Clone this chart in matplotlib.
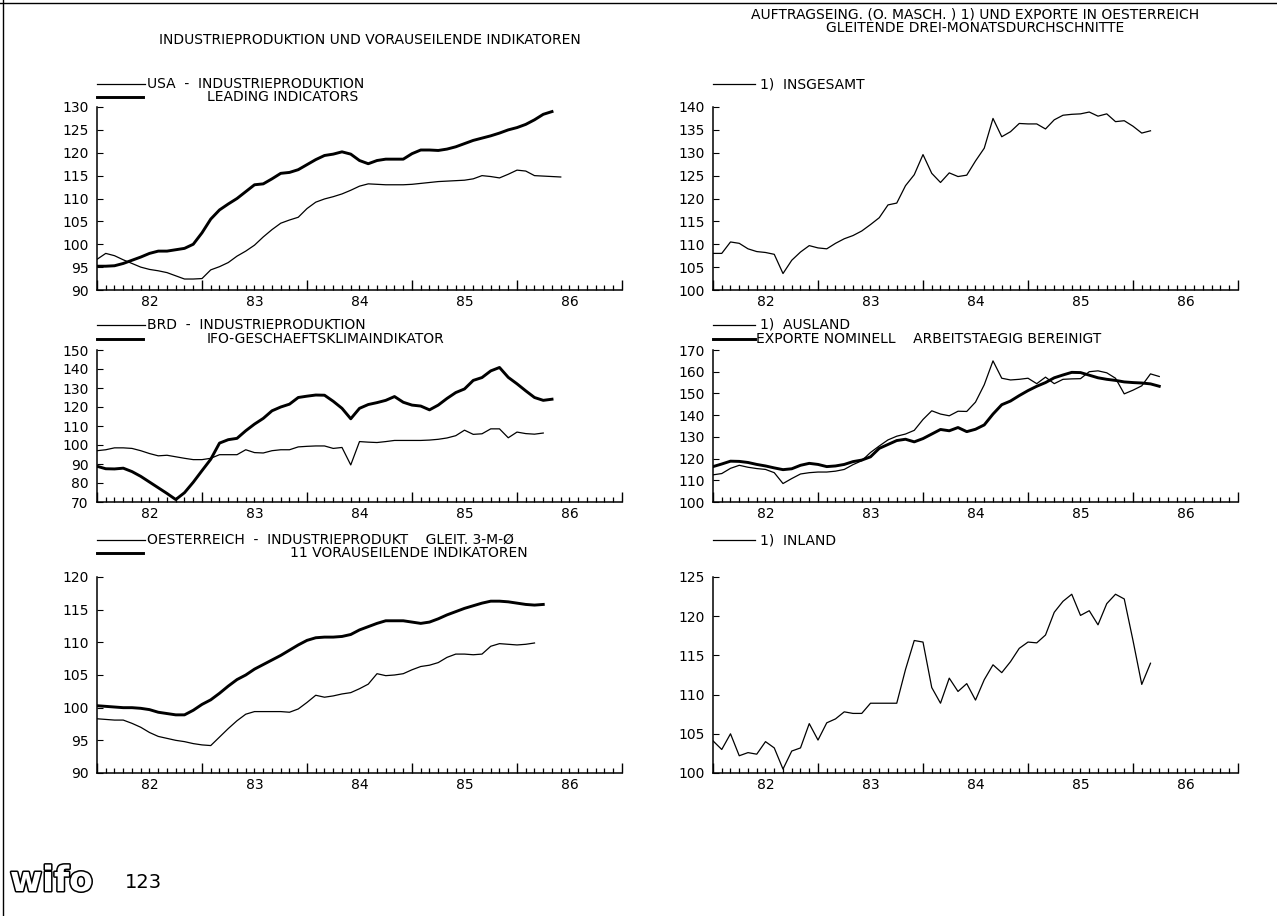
import numpy as np
import matplotlib.pyplot as plt
import matplotlib.patheffects as pe
from matplotlib.lines import Line2D

plt.rcParams['font.family'] = ['DejaVu Sans']

# monthly values from Jan 1982
usa_ip = [96.7, 98.0, 97.5, 96.6, 95.8, 95.0, 94.5, 94.2, 93.8, 93.1, 92.4, 92.4, 92.5,
          94.4, 95.1, 96.0, 97.4, 98.5, 99.8, 101.6, 103.2, 104.6, 105.3, 105.9, 107.8,
          109.2, 109.9, 110.4, 111.0, 111.8, 112.7, 113.2, 113.1, 113.0, 113.0, 113.0,
          113.1, 113.3, 113.5, 113.7, 113.8, 113.9, 114.0, 114.3, 115.0, 114.8, 114.5,
          115.3, 116.2, 116.0, 115.0, 114.9, 114.8, 114.7]
usa_li = [95.2, 95.2, 95.3, 95.8, 96.5, 97.2, 98.0, 98.5, 98.5, 98.8, 99.1, 100.0, 102.5,
          105.5, 107.5, 108.8, 110.0, 111.5, 113.0, 113.2, 114.3, 115.5, 115.7, 116.3,
          117.4, 118.5, 119.4, 119.7, 120.2, 119.7, 118.3, 117.6, 118.3, 118.6, 118.6,
          118.6, 119.8, 120.6, 120.6, 120.5, 120.8, 121.3, 122.0, 122.7, 123.2, 123.7,
          124.3, 125.0, 125.5, 126.2, 127.2, 128.4, 129.0]

brd_ip = [97.0, 97.5, 98.5, 98.5, 98.2, 97.0, 95.5, 94.3, 94.6, 93.8, 93.0, 92.3, 92.3,
          93.0, 94.9, 94.9, 94.9, 97.5, 96.0, 95.8, 97.0, 97.5, 97.5, 99.0, 99.3, 99.5,
          99.5, 98.2, 98.7, 89.5, 101.8, 101.5, 101.3, 101.8, 102.4, 102.4, 102.4, 102.4,
          102.6, 103.0, 103.7, 104.9, 107.8, 105.6, 105.9, 108.5, 108.5, 103.8, 106.8,
          106.0, 105.7, 106.3]
brd_ifo = [88.8, 87.5, 87.4, 87.8, 86.0, 83.5, 80.5, 77.5, 74.5, 71.3, 74.9, 80.4, 86.5,
           92.5, 101.0, 102.8, 103.5, 107.5, 111.0, 114.0, 118.0, 120.0, 121.5, 125.0,
           125.7, 126.3, 126.2, 123.0, 119.3, 113.8, 119.3, 121.3, 122.3, 123.5, 125.5,
           122.5, 121.0, 120.5, 118.5, 121.0, 124.5, 127.6, 129.5, 134.0, 135.5, 139.0,
           140.8, 135.6, 132.2, 128.5, 125.0, 123.5, 124.1]

at_ip = [98.3, 98.2, 98.1, 98.1, 97.6, 97.0, 96.2, 95.6, 95.3, 95.0, 94.8, 94.5, 94.3,
         94.2, 95.5, 96.8, 98.0, 99.0, 99.4, 99.4, 99.4, 99.4, 99.3, 99.8, 100.8, 101.9,
         101.6, 101.8, 102.1, 102.3, 102.9, 103.6, 105.2, 104.9, 105.0, 105.2, 105.8,
         106.3, 106.5, 106.9, 107.7, 108.2, 108.2, 108.1, 108.2, 109.4, 109.8, 109.7,
         109.6, 109.7, 109.9]
at_li = [100.3, 100.2, 100.1, 100.0, 100.0, 99.9, 99.7, 99.3, 99.1, 98.9, 98.9, 99.6,
         100.5, 101.2, 102.2, 103.3, 104.3, 105.0, 105.9, 106.6, 107.3, 108.0, 108.8,
         109.6, 110.3, 110.7, 110.8, 110.8, 110.9, 111.2, 111.9, 112.4, 112.9, 113.3,
         113.3, 113.3, 113.1, 112.9, 113.1, 113.6, 114.2, 114.7, 115.2, 115.6, 116.0,
         116.3, 116.3, 116.2, 116.0, 115.8, 115.7, 115.8]

orders_total = [108.0, 108.0, 110.5, 110.2, 109.0, 108.4, 108.2, 107.8, 103.6, 106.5,
                108.3, 109.7, 109.2, 109.0, 110.2, 111.2, 111.9, 112.9, 114.3, 115.8,
                118.6, 119.0, 122.8, 125.2, 129.6, 125.5, 123.5, 125.6, 124.8, 125.1,
                128.2, 131.0, 137.5, 133.5, 134.6, 136.4, 136.3, 136.3, 135.2, 137.2,
                138.2, 138.4, 138.5, 138.9, 138.0, 138.5, 136.8, 137.0, 135.8, 134.3, 134.8]
orders_foreign = [112.5, 113.1, 115.5, 116.9, 116.0, 115.4, 115.0, 113.5, 108.5, 110.8,
                  112.9, 113.5, 113.8, 113.8, 114.2, 115.0, 117.2, 119.0, 122.8, 125.8,
                  128.6, 130.3, 131.3, 133.0, 138.0, 142.0, 140.5, 139.7, 141.8, 141.7,
                  146.0, 154.0, 165.0, 157.0, 156.2, 156.5, 157.0, 154.5, 157.5, 154.5,
                  156.5, 156.7, 156.8, 160.0, 160.4, 159.5, 157.0, 149.8, 151.5, 153.5,
                  159.0, 157.8]
exports = [116.3, 117.5, 118.8, 118.7, 118.2, 117.3, 116.6, 115.7, 114.9, 115.3, 116.9,
           117.8, 117.3, 116.3, 116.6, 117.3, 118.6, 119.3, 120.8, 124.7, 126.5, 128.3,
           128.9, 127.7, 129.2, 131.3, 133.4, 132.8, 134.3, 132.4, 133.5, 135.5, 140.5,
           144.8, 146.5, 149.0, 151.3, 153.3, 155.0, 157.2, 158.5, 159.7, 159.6, 158.4,
           157.2, 156.5, 156.0, 155.3, 155.0, 154.8, 154.4, 153.3]
orders_domestic = [104.1, 103.0, 105.0, 102.2, 102.6, 102.4, 104.0, 103.2, 100.5, 102.8,
                   103.2, 106.3, 104.2, 106.4, 106.9, 107.8, 107.6, 107.6, 108.9, 108.9,
                   108.9, 108.9, 113.2, 116.9, 116.7, 110.9, 108.9, 112.1, 110.4, 111.4,
                   109.3, 111.9, 113.8, 112.8, 114.2, 115.9, 116.7, 116.6, 117.6, 120.5,
                   121.9, 122.8, 120.1, 120.7, 118.9, 121.6, 122.8, 122.2, 116.9, 111.3, 114.0]

year_labels = ['82', '83', '84', '85', '86']

W, H = 1277, 916
THIN, THICK = 0.9, 2.1
FS = 10

fig = plt.figure(figsize=(W / 100, H / 100), dpi=100)


def fy(y):
    return 1 - y / H


def panel(left, top, right, bottom, ylo, yhi, ystep, thin, thick=None):
    ax = fig.add_axes([left / W, fy(bottom), (right - left) / W, (bottom - top) / H])
    for vals, lw in ((thin, THIN), (thick, THICK)):
        if vals is None:
            continue
        x = 1982 + np.arange(len(vals)) / 12
        ax.plot(x, vals, color='black', lw=lw, solid_joinstyle='round')
    ax.set_xlim(1982, 1987)
    ax.set_ylim(ylo, yhi)
    for s in ('top', 'right'):
        ax.spines[s].set_visible(False)
    for s in ('left', 'bottom'):
        ax.spines[s].set_linewidth(1.1)
    ax.set_xticks(np.arange(1982, 1988), [])
    ax.set_xticks(1982 + np.arange(61) / 12, minor=True)
    ax.tick_params(axis='x', which='major', direction='in', length=7, width=1.0)
    ax.tick_params(axis='x', which='minor', direction='in', length=3.5, width=0.9)
    ax.set_yticks(np.arange(ylo, yhi + 1, ystep))
    ax.tick_params(axis='y', direction='in', length=4, width=0.8, labelsize=FS, pad=6)
    # year labels sit in the middle of each year
    for i, lab in enumerate(year_labels):
        ax.annotate(lab, (1982.5 + i, 0), xycoords=('data', 'axes fraction'),
                    xytext=(0, -5), textcoords='offset pixels',
                    ha='center', va='top', fontsize=FS)
    ax.patch.set_alpha(0)
    return ax


def legend_row(x0, x1, y, lw, label, tx):
    fig.add_artist(Line2D([x0 / W, x1 / W], [fy(y), fy(y)], color='black', lw=lw))
    fig.text(tx / W, fy(y), label, ha='left', va='center', fontsize=FS)


# left column
panel(97, 107, 622, 290, 90, 130, 5, usa_ip, usa_li)
legend_row(97, 145, 84, THIN, 'USA  -  INDUSTRIEPRODUKTION', 147)
legend_row(97, 143, 97, THICK, 'LEADING INDICATORS', 207)

panel(97, 350, 622, 502, 70, 150, 10, brd_ip, brd_ifo)
legend_row(97, 145, 325, THIN, 'BRD  -  INDUSTRIEPRODUKTION', 147)
legend_row(97, 143, 339, THICK, 'IFO-GESCHAEFTSKLIMAINDIKATOR', 207)

panel(97, 577, 622, 773, 90, 120, 5, at_ip, at_li)
legend_row(97, 145, 540, THIN, 'OESTERREICH  -  INDUSTRIEPRODUKT    GLEIT. 3-M-Ø', 147)
legend_row(97, 143, 553, THICK, '11 VORAUSEILENDE INDIKATOREN', 290)

# right column
panel(713, 107, 1238, 290, 100, 140, 5, orders_total)
legend_row(713, 755, 84, THIN, '1)  INSGESAMT', 760)

panel(713, 350, 1238, 502, 100, 170, 10, orders_foreign, exports)
legend_row(713, 755, 325, THIN, '1)  AUSLAND', 760)
legend_row(713, 755, 339, THICK, 'EXPORTE NOMINELL    ARBEITSTAEGIG BEREINIGT', 756)

panel(713, 577, 1238, 773, 100, 125, 5, orders_domestic)
legend_row(713, 755, 540, THIN, '1)  INLAND', 760)

# titles
fig.text(370 / W, fy(40), 'INDUSTRIEPRODUKTION UND VORAUSEILENDE INDIKATOREN',
         ha='center', va='center', fontsize=FS)
fig.text(975 / W, fy(14), 'AUFTRAGSEING. (O. MASCH. ) 1) UND EXPORTE IN OESTERREICH',
         ha='center', va='center', fontsize=FS)
fig.text(975 / W, fy(28), 'GLEITENDE DREI-MONATSDURCHSCHNITTE',
         ha='center', va='center', fontsize=FS)

# page border and footer
fig.add_artist(Line2D([0, 1], [fy(3), fy(3)], color='black', lw=1.0))
fig.add_artist(Line2D([3 / W, 3 / W], [0, 1], color='black', lw=1.0))
fig.text(10 / W, fy(881), 'wifo', ha='left', va='center', fontsize=25, fontweight='bold',
         color='white', path_effects=[pe.withStroke(linewidth=2.2, foreground='black')])
fig.text(125 / W, fy(882), '123', ha='left', va='center', fontsize=14)

fig.savefig('out.png', dpi=100, facecolor='white')
